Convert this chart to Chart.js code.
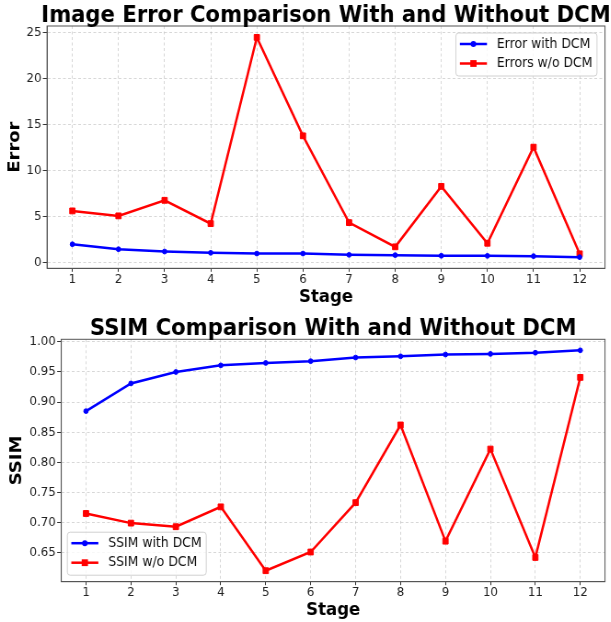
<!DOCTYPE html>
<html>
<head>
<meta charset="utf-8">
<script src="https://cdn.jsdelivr.net/npm/chart.js@4.4.0/dist/chart.umd.min.js"></script>
<style>
  html, body { margin: 0; padding: 0; background: #fff; overflow: hidden; }
  /* the original figure is slightly squeezed sideways, so draw wide and compress */
  .box {
    position: absolute; left: 0; width: 664.13px; height: 311px;
    transform: scaleX(0.92); transform-origin: 0 0;
  }
</style>
</head>
<body>
<div class="box" style="top:0"><canvas id="errChart"></canvas></div>
<div class="box" style="top:311px"><canvas id="ssimChart"></canvas></div>
<script>
// data
const stages = [1, 2, 3, 4, 5, 6, 7, 8, 9, 10, 11, 12];
const errorWithDcm = [2.01, 1.47, 1.22, 1.08, 1.0, 1.0, 0.86, 0.83, 0.76, 0.75, 0.72, 0.61];
const errorWithoutDcm = [5.63, 5.09, 6.78, 4.25, 24.46, 13.78, 4.36, 1.73, 8.29, 2.12, 12.55, 0.97];
const ssimWithDcm = [0.885, 0.931, 0.95, 0.961, 0.965, 0.968, 0.974, 0.976, 0.979, 0.98, 0.982, 0.986];
const ssimWithoutDcm = [0.715, 0.699, 0.693, 0.726, 0.62, 0.651, 0.733, 0.862, 0.669, 0.822, 0.642, 0.941];
const errorTicks = [0, 5, 10, 15, 20, 25];
const ssimTicks = [0.65, 0.7, 0.75, 0.8, 0.85, 0.9, 0.95, 1.0];

const FONT = "'DejaVu Sans', 'Noto Sans', sans-serif";
const BLUE = "#0000ff";
const RED = "#ff0000";

const toPoints = (ys) => stages.map((x, i) => ({ x, y: ys[i] }));

// frame, centred title and a matplotlib-style legend inside the axes
const mplExtras = {
  id: "mplExtras",
  afterDraw(chart, args, opts) {
    const { ctx, chartArea: a } = chart;
    ctx.save();
    ctx.strokeStyle = "#555";
    ctx.lineWidth = 1;
    ctx.setLineDash([]);
    ctx.strokeRect(a.left, a.top, a.right - a.left, a.bottom - a.top);

    ctx.fillStyle = "#000";
    ctx.font = `bold 23px ${FONT}`;
    ctx.textAlign = "center";
    ctx.textBaseline = "alphabetic";
    ctx.fillText(opts.title, (a.left + a.right) / 2, opts.titleY);

    ctx.font = `13.5px ${FONT}`;
    const sets = chart.data.datasets;
    const textW = Math.max(...sets.map((d) => ctx.measureText(d.label).width));
    const w = 44.5 + textW + 5;
    const h = 43;
    const x = opts.legendAt === "upper right" ? a.right - 8.7 - w : a.left + 6.6;
    const y = opts.legendAt === "upper right" ? a.top + 7 : a.bottom - 6.5 - h;

    ctx.beginPath();
    ctx.roundRect(x, y, w, h, 3);
    ctx.fillStyle = "rgba(255,255,255,0.8)";
    ctx.fill();
    ctx.strokeStyle = "#d0d0d0";
    ctx.lineWidth = 1;
    ctx.stroke();

    sets.forEach((d, i) => {
      const ry = y + 11 + i * 19.5;
      ctx.strokeStyle = d.borderColor;
      ctx.lineWidth = 2.5;
      ctx.beginPath();
      ctx.moveTo(x + 4.3, ry);
      ctx.lineTo(x + 33.7, ry);
      ctx.stroke();
      ctx.fillStyle = d.borderColor;
      if (d.pointStyle === "rect") {
        ctx.fillRect(x + 19 - 3.4, ry - 3.4, 6.8, 6.8);
      } else {
        ctx.beginPath();
        ctx.arc(x + 19, ry, 3, 0, Math.PI * 2);
        ctx.fill();
      }
      ctx.fillStyle = "#111";
      ctx.textAlign = "left";
      ctx.textBaseline = "middle";
      ctx.fillText(d.label, x + 44.5, ry);
    });
    ctx.restore();
  },
};

function lineSet(label, values, color, marker) {
  return {
    label,
    data: toPoints(values),
    borderColor: color,
    backgroundColor: color,
    borderWidth: 2.5,
    pointStyle: marker,
    pointRadius: marker === "rect" ? 4.1 : 2.4,
    pointBorderWidth: 1,
    tension: 0,
  };
}

function gridStyle(tickLength) {
  return {
    color: "rgba(170,170,170,0.6)",
    lineWidth: 0.8,
    tickLength,
    tickColor: "#333",
    tickWidth: 1,
    tickBorderDash: [],
  };
}
const borderStyle = { color: "#555", width: 1, dash: [3, 2.5] };

function stageAxis(height, titlePad) {
  return {
    type: "linear",
    min: 0.45,
    max: 12.55,
    afterBuildTicks: (s) => { s.ticks = stages.map((v) => ({ value: v })); },
    afterFit: (s) => { s.height = height; },
    grid: gridStyle(3.5),
    border: borderStyle,
    ticks: { color: "#222", font: { family: FONT, size: 12.8 }, padding: 0, maxRotation: 0 },
    title: {
      display: true,
      text: "Stage",
      color: "#000",
      font: { family: FONT, size: 18, weight: "bold", lineHeight: 1.2 },
      padding: { top: 0, bottom: titlePad },
    },
  };
}

function valueAxis(label, min, max, ticks, width, titlePad, fmt) {
  return {
    min,
    max,
    afterBuildTicks: (s) => { s.ticks = ticks.map((v) => ({ value: v })); },
    afterFit: (s) => { s.width = width; },
    grid: gridStyle(4.5),
    border: borderStyle,
    ticks: { color: "#222", font: { family: FONT, size: 12.8 }, padding: 1.5, callback: fmt },
    title: {
      display: true,
      text: label,
      color: "#000",
      font: { family: FONT, size: 18, weight: "bold", lineHeight: 1.2 },
      padding: { top: titlePad, bottom: 0 },
    },
  };
}

function drawLineChart(id, cfg) {
  const ctx = document.getElementById(id).getContext("2d");
  return new Chart(ctx, {
    type: "line",
    data: { datasets: cfg.datasets },
    options: {
      responsive: true,
      maintainAspectRatio: false,
      animation: false,
      layout: { padding: cfg.padding },
      plugins: {
        legend: { display: false },
        tooltip: { enabled: false },
        title: { display: false },
        mplExtras: { title: cfg.title, titleY: cfg.titleY, legendAt: cfg.legendAt },
      },
      scales: { x: cfg.x, y: cfg.y },
    },
    plugins: [mplExtras],
  });
}

drawLineChart("errChart", {
  title: "Image Error Comparison With and Without DCM",
  titleY: 22,
  legendAt: "upper right",
  padding: { top: 26, right: 6.5, left: 0, bottom: 0 },
  datasets: [
    lineSet("Error with DCM", errorWithDcm, BLUE, "circle"),
    lineSet("Errors w/o DCM", errorWithoutDcm, RED, "rect"),
  ],
  x: stageAxis(42.7, 3.2),
  y: valueAxis("Error", -0.6, 25.7, errorTicks, 51.1, 6, (v) => String(v)),
});

drawLineChart("ssimChart", {
  title: "SSIM Comparison With and Without DCM",
  titleY: 24,
  legendAt: "lower left",
  padding: { top: 28.3, right: 6.5, left: 0, bottom: 0 },
  datasets: [
    lineSet("SSIM with DCM", ssimWithDcm, BLUE, "circle"),
    lineSet("SSIM w/o DCM", ssimWithoutDcm, RED, "rect"),
  ],
  x: stageAxis(40.3, 0.9),
  y: valueAxis("SSIM", 0.6017, 1.0043, ssimTicks, 66.6, 7.7, (v) => Number(v).toFixed(2)),
});
</script>
</body>
</html>
